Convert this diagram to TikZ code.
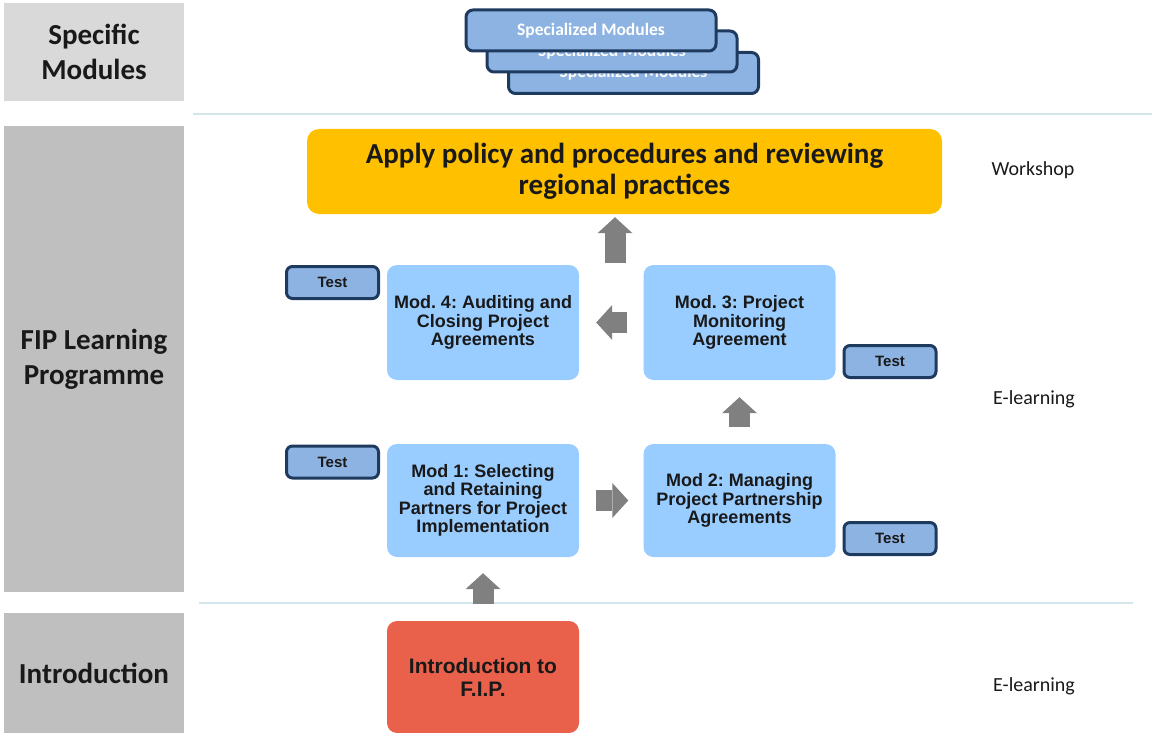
\documentclass[tikz,border=0pt]{standalone}
\usepackage{fontspec}
\setmainfont{Carlito}
\newfontfamily\arialf{Liberation Sans}
\usetikzlibrary{arrows.meta}
\definecolor{graylight}{HTML}{D9D9D9}
\definecolor{graymid}{HTML}{BFBFBF}
\definecolor{sepc}{HTML}{D3E6EC}
\definecolor{modblue}{HTML}{99CCFF}
\definecolor{testblue}{HTML}{8DB3E2}
\definecolor{navy}{HTML}{1F3A5F}
\definecolor{yel}{HTML}{FFC000}
\definecolor{introred}{HTML}{E9614B}
\definecolor{arrgray}{HTML}{808080}
\frenchspacing
\begin{document}
\begin{tikzpicture}[x=1pt,y=-1pt,
 side/.style={fill=graymid, minimum width=180pt, inner sep=0pt, font=\bfseries\fontsize{29}{35}\selectfont, align=center, text=black!90},
 modbox/.style={fill=modblue, rounded corners=10pt, minimum width=192pt, inner sep=0pt, align=center, font=\arialf\bfseries\fontsize{18}{18.5}\selectfont, text=black!90},
 testbox/.style={fill=testblue, draw=navy, line width=3pt, rounded corners=6pt, minimum width=92pt, minimum height=32pt, inner sep=0pt, font=\arialf\bfseries\fontsize{15}{18}\selectfont, text=black!90},
 specbox/.style={fill=testblue, draw=navy, line width=3pt, rounded corners=7pt, minimum width=250pt, minimum height=41pt, inner sep=0pt, text=white, font=\bfseries\fontsize{17.5}{20}\selectfont},
 blk/.style={draw=arrgray, line width=21pt, -{Triangle[width=35pt,length=16pt,line width=0pt,fill=arrgray]}},
 modelabel/.style={font=\fontsize{20}{24}\selectfont, text=black!90},
 sepline/.style={draw=sepc, line width=1.5pt}
]
\useasboundingbox (0,0) rectangle (1152,733);
% left column labels
\node[side, fill=graylight, minimum height=98pt] (sm) at (94,52) {Specific\\Modules};
\node[side, minimum height=466pt] (fip) at (94,359) {FIP Learning\\Programme};
\node[side, minimum height=120pt] (intl) at (94,673) {Introduction};
% separators
\coordinate (s1a) at (193,114); \coordinate (s1b) at (1152,114);
\coordinate (s2a) at (199,603); \coordinate (s2b) at (1133,603);
\draw[sepline] (s1a) -- (s1b);
\draw[sepline] (s2a) -- (s2b);
% specialized modules stack
\node[specbox] (sp3) at (633.5,73) {Specialized Modules};
\node[specbox] (sp2) at (612,51.5) {Specialized Modules};
\node[specbox] (sp1) at (591,30.5) {Specialized Modules};
% workshop box
\node[fill=yel, rounded corners=12pt, minimum width=635pt, minimum height=85pt, inner sep=0pt, align=center, font=\bfseries\fontsize{29}{31}\selectfont, text=black!90] (yellow) at (624.5,171.5) {Apply policy and procedures and reviewing\\regional practices};
% modules
\node[modbox, minimum height=115pt] (mod4) at (483,322.5) {Mod. 4: Auditing and\\Closing Project\\Agreements};
\node[modbox, minimum height=115pt] (mod3) at (739.5,322.5) {Mod. 3: Project\\Monitoring\\Agreement};
\node[modbox, minimum height=113pt] (mod1) at (483,500.5) {Mod 1: Selecting\\and Retaining\\Partners for Project\\Implementation};
\node[modbox, minimum height=113pt] (mod2) at (739.5,500.5) {Mod 2: Managing\\Project Partnership\\Agreements};
\node[modbox, fill=introred, minimum height=112pt, font=\arialf\bfseries\fontsize{21}{23}\selectfont] (intro) at (483,677) {Introduction to\\F.I.P.};
% tests
\node[testbox] (t4) at (332.5,282.5) {Test};
\node[testbox] (t3) at (890,361.5) {Test};
\node[testbox] (t1) at (332.5,462) {Test};
\node[testbox] (t2) at (890,538.5) {Test};
% mode labels
\node[modelabel] (ws) at (1033,170) {Workshop};
\node[modelabel] (el1) at (1034,399) {E-learning};
\node[modelabel] (el2) at (1034,686) {E-learning};
% block arrows
\draw[blk, shorten <=17pt, shorten >=16pt] (intro.north) -- (mod1.south);
\draw[blk, shorten <=17pt, shorten >=15pt] (mod1.east) -- (mod2.west);
\draw[blk, shorten <=17pt, shorten >=17pt] (mod2.north) -- (mod3.south);
\draw[blk, shorten <=16pt, shorten >=17pt] (mod3.west) -- (mod4.east);
\coordinate (ya) at (615,263);
\draw[blk, shorten >=3pt] (ya) -- (ya |- yellow.south);
\end{tikzpicture}
\end{document}
